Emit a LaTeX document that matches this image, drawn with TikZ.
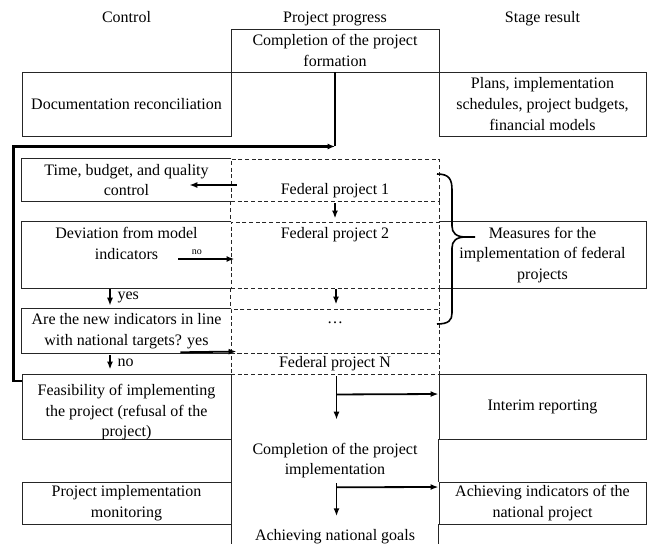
\documentclass[tikz,border=0pt]{standalone}
\usepackage{fontspec}
\setmainfont{Liberation Serif}
\usetikzlibrary{calc,arrows.meta}
\begin{document}
\begin{tikzpicture}[x=0.75pt,y=-0.75pt,
  txt/.style={inner sep=0pt, align=center, font=\fontsize{12}{15.4}\selectfont},
  shp/.style 2 args={txt, minimum width={#1*0.75pt}, minimum height={#2*0.75pt}},
  ln/.style={draw=black!85, line width=0.7pt},
  dsh/.style={draw=black!85, line width=0.7pt, dash pattern=on 3pt off 2pt},
  arr/.style={line width=1.35pt, -{Latex[length=6pt,width=4.5pt]}},
  thk/.style={line width=1.6pt},
  small/.style={inner sep=1pt, font=\fontsize{7.5}{9}\selectfont}]
\useasboundingbox (0,0) rectangle (649,543);

% headers
\node[txt, anchor=base] (h1) at (126.5,22) {Control};
\node[txt, anchor=base] (h2) at (335,22) {Project progress};
\node[txt, anchor=base] (h3) at (542.5,22) {Stage result};

% top rows
\node[shp={208}{43}, ln] (comp) at (335,50.5) {Completion of the project\\formation};
\node[shp={209}{64}, ln] (doc) at (126.5,104) {Documentation reconciliation};
\node[shp={207}{64}, ln] (plans) at (542.5,104) {Plans, implementation\\schedules, project budgets,\\financial models};

% federal projects block
\node[shp={209}{42}] (tbq) at (126.5,180) {Time, budget, and quality\\control};
\node[shp={208}{42}, dsh] (fp1) at (335,180) {};
\node[txt, anchor=base] (fp1t) at (335,194.5) {Federal project 1};

\node[shp={209}{66}] (dev) at (126.5,255) {};
\node[txt] (devt) at (126.5,243.5) {Deviation from model\\indicators};
\node[shp={208}{66}, dsh] (fp2) at (335,255) {};
\node[txt, anchor=base] (fp2t) at (335,238) {Federal project 2};
\node[shp={207}{66}] (meas) at (542.5,255) {Measures for the\\implementation of federal\\projects};

\node[shp={209}{44}] (newind) at (126.5,331) {Are the new indicators in line\\with national targets? yes};
\node[shp={208}{44}, dsh] (dots) at (335,331) {};
\node[txt] (dotst) at (335,323) {…};
\node[shp={208}{21}, dsh] (fpN) at (335,363.5) {Federal project N};

% lower rows
\node[shp={209}{65}, ln] (feas) at (126.5,406.5) {};
\node[txt] (feast) at (126.5,412.5) {Feasibility of implementing\\the project (refusal of the\\project)};
\node[shp={207}{65}, ln] (interim) at (542.5,406.5) {Interim reporting};
\node[shp={208}{43}] (compimpl) at (335,460.5) {Completion of the project\\implementation};
\node[shp={209}{42}, ln] (mon) at (126.5,503) {Project implementation\\monitoring};
\node[shp={207}{42}, ln] (achind) at (542.5,503) {Achieving indicators of the\\national project};
\node[txt, anchor=base] (achnat) at (335,540) {Achieving national goals};

% partial borders
\draw[ln] (tbq.north east) -- (tbq.north west) -- (tbq.south west) -- (tbq.south east);
\draw[ln] (dev.north east) -- (dev.north west) -- (dev.south west) -- (dev.south east);
\draw[ln] (newind.north east) -- (newind.north west) -- (newind.south west) -- (newind.south east);
\draw[ln] (meas.north west) -- (meas.north east) -- (meas.south east) -- (meas.south west);
\draw[dsh] (fp1.south west) -- (fp2.north west);
\draw[dsh] (fp1.south east) -- (fp2.north east);
\draw[dsh] (fp2.south west) -- (dots.north west);
\draw[dsh] (fp2.south east) -- (dots.north east);
\draw[ln] (feas.south east) -- (mon.north east);
\draw[ln] (interim.south west) -- (achind.north west);
\draw[ln] (mon.south east) -- ++(0,20);
\draw[ln] (achind.south west) -- ++(0,20);

% feedback loop
\coordinate (jn) at ($(comp.south)+(0,74)$);
\coordinate (fb) at ($(feas.north west)+(0,7.5)$);
\draw[thk] (comp.south) -- (jn);
\draw[thk, -{Latex[length=5.5pt,width=4.5pt]}] (fb) -- ++(-8,0) |- (jn);

% arrows
\draw[arr] ($(fp1.west)+(6,5)$) -- ($(tbq.east)+(-42,5)$);
\draw[arr] ($(fp1.south)+(0,2)$) -- ($(fp2.north)+(0,-3)$);
\draw[arr] ($(dev.east)+(-53,4)$) -- node[pos=0.33, above=1.5pt, small]{no} ($(fp2.west)+(4,4)$);
\draw[arr] ($(fp2.south)+(1,1)$) -- ($(dots.north)+(1,-4)$);
\draw[arr] ($(dev.south)+(-16.5,1)$) -- node[midway, anchor=west, txt, xshift=5pt]{yes} ($(newind.north)+(-16.5,-3)$);
\draw[arr] ($(newind.south east)+(-51,-1)$) -- ($(fpN.north west)+(6,-1)$);
\draw[arr] ($(newind.south)+(-16.5,2)$) -- node[midway, anchor=west, txt, xshift=5pt]{no} ($(feas.north)+(-16.5,-4)$);
\draw[arr] ($(fpN.south)+(1.5,2)$) -- ($(compimpl.north)+(1.5,-19)$);
\draw[arr] ($(fpN.south)+(1.5,20)$) -- ($(interim.west)+(0,-12.5)$);
\draw[arr] ($(compimpl.south)+(1.5,1)$) -- ($(compimpl.south)+(1.5,34)$);
\draw[arr] ($(compimpl.south)+(1.5,5)$) -- ($(achind.west)+(0,-16)$);

% brace
\draw[line width=1.2pt] (437,174) .. controls (449,174) and (452,179) .. (452,190) -- (452,226) .. controls (452,233) and (456,237) .. (466,237) -- (475,237);
\draw[line width=1.2pt] (466,237) .. controls (456,237) and (452,241) .. (452,248) -- (452,313) .. controls (452,320) and (449,324) .. (437,324);
\end{tikzpicture}
\end{document}
